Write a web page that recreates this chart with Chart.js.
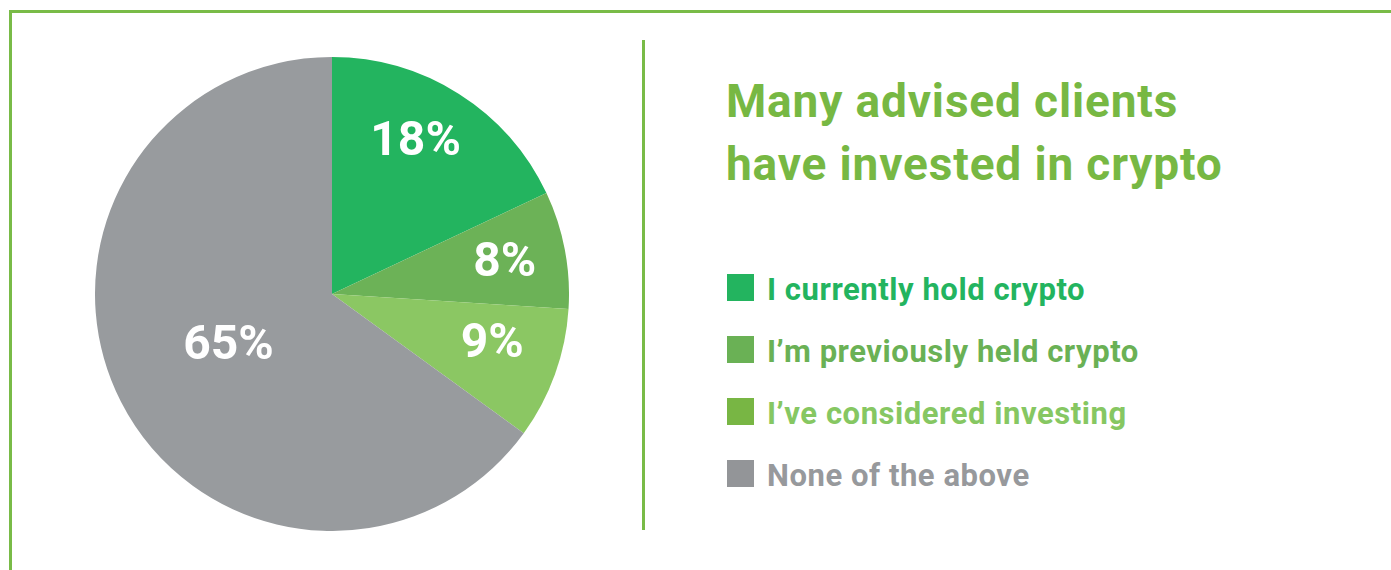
<!DOCTYPE html>
<html>
<head>
<meta charset="utf-8">
<script src="https://cdn.jsdelivr.net/npm/chart.js@4"></script>
<style>
  html, body { margin: 0; padding: 0; background: #fff; }
  body { width: 1391px; height: 570px; position: relative; overflow: hidden; font-family: Roboto, "Noto Sans", sans-serif; }
  .frame { position: absolute; left: 9px; top: 10px; right: -10px; bottom: -10px; border-top: 3px solid #79bb47; border-left: 3px solid #79bb47; }
  .divider { position: absolute; left: 642px; top: 40px; width: 3px; height: 490px; background: #79bb47; }
  .pie { position: absolute; left: 95px; top: 57px; width: 474px; height: 474px; }
  .title { position: absolute; left: 726px; top: 70px; font-size: 46px; line-height: 63px; font-weight: 700; letter-spacing: 0.85px; color: #77b843; white-space: nowrap; }
  .legend-row { position: absolute; left: 727px; height: 31px; display: flex; align-items: flex-start; white-space: nowrap; }
  .legend-row .swatch { width: 27px; height: 27px; margin-right: 13px; }
  .legend-row .text { font-size: 31px; line-height: 31px; font-weight: 700; letter-spacing: 0.55px; }
</style>
</head>
<body>
<div class="frame"></div>
<div class="divider"></div>
<div class="pie"><canvas id="chart"></canvas></div>
<div class="title">Many advised clients<br>have invested in crypto</div>
<div id="legend"></div>

<script>
// survey answers and their share of advised clients (%)
const answers = ['I currently hold crypto', 'I’m previously held crypto', 'I’ve considered investing', 'None of the above'];
const shares = [18, 8, 9, 65];

// colours: slices, legend squares, legend text
const sliceColors = ['#23b45f', '#6cb257', '#8bc763', '#989b9e'];
const swatchColors = ['#23b45f', '#6ab155', '#78b644', '#939598'];
const legendTextColors = ['#23b45f', '#6ab155', '#86c762', '#97999c'];

// where each percentage sits inside its slice (fraction of radius, angle nudge in degrees)
const labelRadius = [0.73, 0.74, 0.71, 0.49];
const labelTurn = [-3.5, 0.8, -2, 0];

const sliceLabels = {
  id: 'sliceLabels',
  afterDatasetsDraw(chart) {
    const ctx = chart.ctx;
    const arcs = chart.getDatasetMeta(0).data;
    ctx.save();
    ctx.fillStyle = '#ffffff';
    ctx.font = '700 48px Roboto, "Noto Sans", sans-serif';
    ctx.textAlign = 'center';
    ctx.textBaseline = 'middle';
    arcs.forEach((arc, i) => {
      const { x, y, startAngle, endAngle, outerRadius } = arc.getProps(['x', 'y', 'startAngle', 'endAngle', 'outerRadius'], true);
      const mid = (startAngle + endAngle) / 2 + labelTurn[i] * Math.PI / 180;
      const r = outerRadius * labelRadius[i];
      ctx.fillText(shares[i] + '%', x + Math.cos(mid) * r, y + Math.sin(mid) * r);
    });
    ctx.restore();
  }
};

new Chart(document.getElementById('chart'), {
  type: 'pie',
  data: {
    labels: answers,
    datasets: [{
      data: shares,
      backgroundColor: sliceColors,
      borderWidth: 0,
      hoverOffset: 0
    }]
  },
  options: {
    responsive: true,
    maintainAspectRatio: false,
    animation: false,
    layout: { padding: 0 },
    plugins: {
      legend: { display: false },
      tooltip: { enabled: false }
    }
  },
  plugins: [sliceLabels]
});

// legend built from the same arrays
const legend = document.getElementById('legend');
answers.forEach((answer, i) => {
  const row = document.createElement('div');
  row.className = 'legend-row';
  row.style.top = (274 + i * 62) + 'px';
  row.innerHTML = '<div class="swatch" style="background:' + swatchColors[i] + '"></div>' +
    '<div class="text" style="color:' + legendTextColors[i] + '">' + answer + '</div>';
  legend.appendChild(row);
});
</script>
</body>
</html>
